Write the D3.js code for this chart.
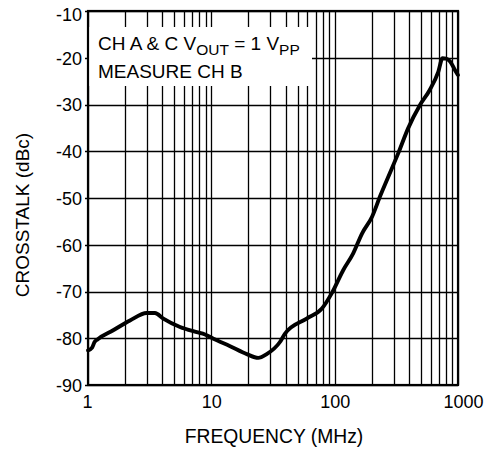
<!DOCTYPE html>
<html>
<head>
<meta charset="utf-8">
<script src="https://cdn.jsdelivr.net/npm/d3@7"></script>
<style>
  html, body { margin: 0; padding: 0; background: #fff; }
  svg { display: block; font-family: "Liberation Sans", Arial, Helvetica, sans-serif; }
</style>
</head>
<body>
<svg id="chart" width="498" height="450"></svg>
<script>
// ---- data ----
const freqMHz = [1.0, 1.08, 1.13, 1.2, 1.6, 2.19, 2.99, 3.49, 4.08, 5.57, 7.61, 8.89, 10.4, 14.2, 19.4, 24.0, 28.1, 36.0, 39.6, 59.3, 78.5, 94.6, 117.5, 141, 166.6, 201, 233, 280, 328, 394, 492, 590, 692, 749, 800, 863, 944, 1000];
const crosstalkDbc = [-82.6, -82.0, -80.8, -80.2, -78.3, -76.2, -74.6, -74.6, -75.8, -77.6, -78.7, -79.2, -80.1, -81.7, -83.4, -84.2, -83.4, -80.8, -79.0, -75.8, -73.7, -70.4, -65.4, -61.9, -57.6, -54.0, -49.7, -44.7, -40.4, -35.1, -30.1, -26.9, -23.0, -20.1, -20.2, -20.8, -22.6, -23.7];
const xTickValues = [1, 10, 100, 1000];
const xTickLabels = ["1", "10", "100", "1000"];
const yTickValues = [-10, -20, -30, -40, -50, -60, -70, -80, -90];
const yTickLabels = ["-10", "-20", "-30", "-40", "-50", "-60", "-70", "-80", "-90"];
const xTitle = "FREQUENCY (MHz)";
const yTitle = "CROSSTALK (dBc)";

// ---- layout ----
const W = 498, H = 450;
const m = { left: 88, right: 40, top: 11, bottom: 65 };
const svg = d3.select("#chart");

const x = d3.scaleLog().domain([1, 1000]).range([m.left, W - m.right]);
const y = d3.scaleLinear().domain([-90, -10]).range([H - m.bottom, m.top]);

// minor grid values 1..9 per decade
const gridX = [];
for (let d = 1; d < 1000; d *= 10) for (let k = 1; k <= 9; k++) gridX.push(k * d);
gridX.push(1000);

const g = svg.append("g");

// grid lines
g.append("g").selectAll("line").data(gridX).join("line")
  .attr("x1", d => Math.round(x(d)) + 0.5).attr("x2", d => Math.round(x(d)) + 0.5)
  .attr("y1", y(-10)).attr("y2", y(-90))
  .attr("stroke", "#000").attr("stroke-width", 1.3);
g.append("g").selectAll("line").data(yTickValues).join("line")
  .attr("x1", x(1) - 3).attr("x2", x(1000))
  .attr("y1", d => Math.round(y(d)) + 0.5).attr("y2", d => Math.round(y(d)) + 0.5)
  .attr("stroke", "#000").attr("stroke-width", 1.3);

// annotation box (white, hides grid)
const boxX0 = x(1), boxX1 = 312, boxY0 = 27, boxY1 = 86;
g.append("rect").attr("x", boxX0 + 1).attr("y", boxY0).attr("width", boxX1 - boxX0 - 1).attr("height", boxY1 - boxY0)
  .attr("fill", "#fff");

// frame
g.append("rect").attr("x", x(1)).attr("y", y(-10)).attr("width", x(1000) - x(1)).attr("height", y(-90) - y(-10))
  .attr("fill", "none").attr("stroke", "#000").attr("stroke-width", 2.2);

// curve
const line = d3.line().x((d, i) => x(freqMHz[i])).y(d => y(d)).curve(d3.curveMonotoneX);
g.append("path").datum(crosstalkDbc).attr("d", line)
  .attr("fill", "none").attr("stroke", "#000").attr("stroke-width", 3.9)
  .attr("stroke-linejoin", "round").attr("stroke-linecap", "round");

// axes labels (using d3 axes, then styled)
const xAxis = d3.axisBottom(x).tickValues(xTickValues).tickFormat((d, i) => xTickLabels[i]).tickSize(0).tickPadding(0);
const xg = g.append("g").attr("transform", `translate(0,${y(-90)})`).call(xAxis);
xg.select(".domain").remove();
xg.selectAll("text").attr("fill", "#000").attr("font-size", 18).attr("dy", null).attr("y", 23)
  .attr("dx", d => d === 1000 ? 5 : (d === 1 ? -1 : 0))
  .attr("font-family", "Liberation Sans, Arial, sans-serif");

const yAxis = d3.axisLeft(y).tickValues(yTickValues).tickFormat((d, i) => yTickLabels[i]).tickSize(0).tickPadding(6);
const yg = g.append("g").attr("transform", `translate(${x(1)},0)`).call(yAxis);
yg.select(".domain").remove();
yg.selectAll("text").attr("fill", "#000").attr("font-size", 18)
  .attr("dy", d => d === -10 ? "0.52em" : "0.36em")
  .attr("font-family", "Liberation Sans, Arial, sans-serif");

// axis titles
svg.append("text").attr("x", 274).attr("y", 443).attr("text-anchor", "middle")
  .attr("font-size", 19.3).attr("fill", "#000").text(xTitle);
svg.append("text").attr("transform", "translate(28.5,215) rotate(-90)").attr("text-anchor", "middle")
  .attr("font-size", 19).attr("fill", "#000").text(yTitle);

// annotation text
const t1 = svg.append("text").attr("x", 98).attr("y", 50).attr("font-size", 19).attr("fill", "#000");
t1.append("tspan").text("CH A & C V");
t1.append("tspan").attr("font-size", 15.5).attr("dy", 5).text("OUT");
t1.append("tspan").attr("dy", -5).text(" = 1 V");
t1.append("tspan").attr("font-size", 15.5).attr("dy", 5).text("PP");
svg.append("text").attr("x", 98).attr("y", 78).attr("font-size", 19).attr("fill", "#000").text("MEASURE CH B");
</script>
</body>
</html>
